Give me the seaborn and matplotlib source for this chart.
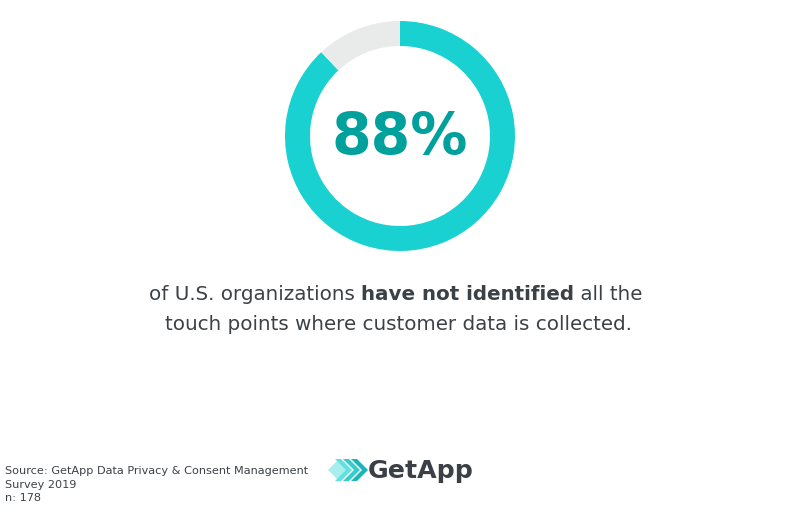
import matplotlib
matplotlib.use("Agg")
import matplotlib.pyplot as plt
from matplotlib.patches import Polygon
import seaborn as sns

# data
labels = ["Have not identified", "Have identified"]
shares = [88, 12]
headline = "88%"
caption_parts = [("of U.S. organizations ", "normal"),
                 ("have not identified", "bold"),
                 (" all the", "normal")]
caption_line2 = "touch points where customer data is collected."
source_lines = ["Source: GetApp Data Privacy & Consent Management",
                "Survey 2019",
                "n: 178"]

TEAL = "#1ad1d1"
LIGHT = "#e9ebea"
DARK_TEAL = "#00a09c"
TEXT = "#3c4146"

sns.set_theme(style="white")
plt.rcParams["font.family"] = ["DejaVu Sans"]

W, H = 800, 512
fig = plt.figure(figsize=(8, 5.12), dpi=100)

# donut
cx, cy, r = 400, 136, 115
ax = fig.add_axes([(cx - r) / W, (H - cy - r) / H, 2 * r / W, 2 * r / H])
ax.pie(shares, colors=[TEAL, LIGHT], startangle=90, counterclock=False,
       radius=1, wedgeprops=dict(width=25 / r, edgecolor="none"))
ax.set_xlim(-1, 1)
ax.set_ylim(-1, 1)
ax.set_aspect("equal")
ax.axis("off")
ax.text(0, -0.02, headline, ha="center", va="center", fontsize=41,
        fontweight="bold", color=DARK_TEAL)

# caption, mixed weight on the first line
fig.canvas.draw()
renderer = fig.canvas.get_renderer()
fs = 14.3
pieces = []
for txt, wt in caption_parts:
    t = fig.text(0, 1 - 295 / H, txt, fontsize=fs, fontweight=wt, color=TEXT,
                 va="center", ha="left")
    pieces.append(t)
widths = [p.get_window_extent(renderer).width for p in pieces]
total = sum(widths)
x = 396 - total / 2
for p, w in zip(pieces, widths):
    p.set_x(x / W)
    x += w
fig.text(398 / W, 1 - 324 / H, caption_line2, fontsize=fs, color=TEXT,
         ha="center", va="center")

# source footer
for i, line in enumerate(source_lines):
    fig.text(5 / W, 1 - (471 + i * 13.5) / H, line, fontsize=8.1, color=TEXT,
             ha="left", va="center")

# logo
lax = fig.add_axes([326 / W, 1 - 484 / H, 44 / W, 28 / H])
lax.set_xlim(0, 44)
lax.set_ylim(0, 28)
lax.axis("off")
lax.add_patch(Polygon([(2, 14), (13, 25), (24, 14), (13, 3)], closed=True,
                      color="#a8eeee", lw=0, zorder=0))
for dx, c in [(9, "#62dfdf"), (17, "#34cccc"), (25, "#1ab5b5")]:
    lax.add_patch(Polygon([(dx, 3), (dx + 6, 3), (dx + 17, 14),
                           (dx + 6, 25), (dx, 25), (dx + 11, 14)],
                          closed=True, color=c, lw=0))
fig.text(368 / W, 1 - 471 / H, "GetApp", fontsize=18.2, fontweight="bold",
         color="#3b4046", ha="left", va="center")

fig.savefig("out.png", dpi=100, facecolor="white")
